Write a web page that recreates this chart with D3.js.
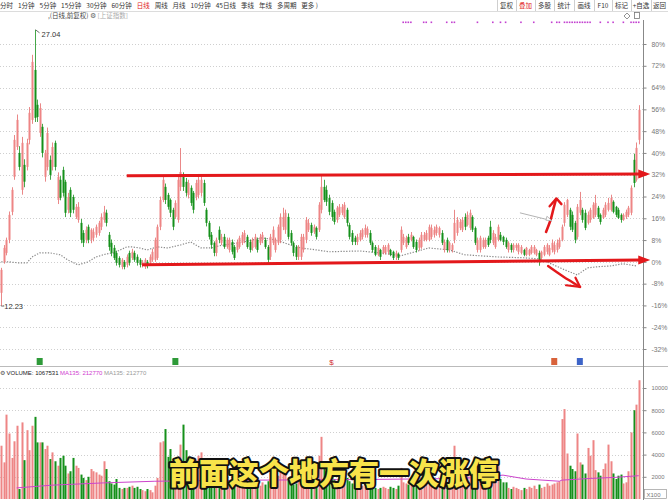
<!DOCTYPE html>
<html><head><meta charset="utf-8">
<script src="https://cdn.jsdelivr.net/npm/d3@7"></script>
<style>
html,body{margin:0;padding:0;background:#fff;}
svg{display:block;font-family:"Liberation Sans","Noto Sans CJK SC",sans-serif;}
</style></head><body>
<svg id="c" width="668" height="500"></svg>
<script>
// ---------------- DATA ----------------
const basePrice = 14.6;
const pctTicks = [80,72,64,56,48,40,32,24,16,8,0,-8,-16,-24,-32];
const volTicks = [2000,4000,6000,8000,10000];
const periodTabs = ["分时","1分钟","5分钟","15分钟","30分钟","60分钟","日线","周线","月线","10分钟","45日线","季线","年线","多周期","更多 )"];
const activeTab = "日线";
const toolButtons = ["复权","叠加","多股","统计","画线","F10","标记","+自选","返回"];
const activeButton = "叠加";
const subtitle = "前面这个地方有一次涨停";
const highLabel = "27.04", lowLabel = "12.23";
const volumeHeader = ["VOLUME: 1067531","MA135: 212770","MA135: 212770"];
// candles: [open, high, low, close]
const candles = [
[12.94,14.28,12.23,14.17],[14.60,15.50,14.50,15.35],[15.08,15.90,14.95,15.78],[15.78,17.30,15.60,17.12],[17.28,18.60,17.10,18.46],
[19.16,21.40,19.00,21.14],[20.76,22.50,20.60,22.21],[20.44,20.80,19.50,19.69],[18.46,21.30,18.20,20.98],[19.80,20.10,18.60,18.90],
[19.69,21.20,19.50,20.98],[21.14,22.90,20.90,22.59],[22.21,25.70,22.00,25.32],[24.89,27.04,22.10,22.32],[23.02,23.30,22.10,22.37],
[21.51,23.10,21.30,22.85],[21.84,22.00,20.20,20.44],[19.16,20.60,18.90,20.44],[19.69,21.80,19.50,21.51],[20.07,20.30,19.00,19.26],
[19.69,21.00,19.50,20.76],[20.98,21.10,19.50,19.69],[17.92,19.40,17.70,19.16],[19.00,19.20,17.90,18.03],[19.53,19.70,18.10,18.30],
[18.89,19.00,17.00,17.23],[17.39,18.30,17.20,18.08],[18.46,18.60,17.00,17.23],[18.08,18.20,17.20,17.39],[17.01,17.70,16.90,17.55],
[16.85,17.80,16.70,17.55],[16.69,16.90,15.60,15.78],[16.15,16.30,15.40,15.62],[15.78,16.50,15.60,16.32],[16.48,16.60,15.60,15.78],
[15.78,16.40,15.60,16.32],[15.89,16.40,15.70,16.21],[16.05,16.60,15.90,16.48],[16.15,16.80,16.00,16.69],[16.48,17.20,16.30,17.01],
[16.85,17.60,16.70,17.28],[17.23,17.40,16.50,16.69],[16.05,16.20,15.20,15.40],[15.62,15.80,14.90,15.08],[15.35,15.50,14.70,14.81],
[15.08,15.20,14.40,14.55],[14.81,14.90,14.30,14.44],[14.33,14.80,14.20,14.71],[14.60,14.70,14.20,14.33],[14.44,15.00,14.30,14.87],
[15.08,15.20,14.40,14.55],[14.81,15.30,14.70,15.14],[15.08,15.20,14.60,14.71],[14.87,15.00,14.40,14.55],[14.71,14.80,14.30,14.44],
[14.44,14.70,14.30,14.60],[14.33,14.80,14.22,14.71],[14.60,14.70,14.25,14.39],[14.55,15.00,14.40,14.87],[14.71,15.30,14.60,15.14],
[14.71,15.90,14.60,15.78],[14.81,16.60,14.70,16.48],[16.48,18.10,16.30,17.92],[17.92,19.20,17.80,19.00],[18.62,18.80,17.70,17.92],
[18.19,18.30,17.40,17.55],[17.92,18.00,17.00,17.23],[17.39,17.50,16.30,16.48],[17.01,17.90,16.90,17.76],[16.85,19.20,16.70,19.00],
[18.62,20.70,18.40,19.42],[19.21,19.40,18.40,18.62],[18.89,19.10,18.10,18.30],[18.19,19.00,18.00,18.83],[18.57,18.70,17.60,17.76],
[18.30,18.40,17.20,17.39],[18.08,19.00,17.90,18.83],[18.19,19.20,18.00,19.00],[18.30,19.25,18.10,19.00],[18.83,19.00,17.60,17.76],
[17.39,17.50,16.50,16.69],[16.69,16.80,15.80,15.94],[16.05,16.20,15.30,15.51],[15.62,15.70,14.90,15.08],[15.08,15.90,14.90,15.78],
[16.32,16.50,15.60,15.78],[15.62,16.10,15.50,15.94],[15.94,16.10,15.30,15.40],[15.40,15.90,15.30,15.78],[15.24,15.90,15.10,15.78],
[15.67,15.80,15.00,15.14],[15.40,15.50,14.70,14.81],[15.24,15.80,15.10,15.67],[15.40,16.00,15.30,15.89],[15.62,16.20,15.50,16.05],
[15.78,16.30,15.60,16.15],[15.94,16.05,15.30,15.40],[15.67,15.80,15.10,15.24],[15.35,15.90,15.20,15.78],[15.40,16.10,15.30,15.94],
[15.78,15.90,15.10,15.24],[15.62,16.10,15.50,15.94],[15.78,16.20,15.60,16.05],[15.78,15.90,15.30,15.40],[15.40,15.50,14.55,14.71],
[14.87,16.10,14.70,15.94],[15.62,16.50,15.50,16.32],[15.24,15.90,15.10,15.78],[15.62,16.60,15.50,16.48],[15.78,17.20,15.60,17.01],
[16.48,17.50,16.30,17.01],[16.32,17.40,16.10,17.23],[17.01,17.20,15.80,15.94],[16.15,16.30,15.50,15.62],[15.62,15.70,14.90,15.08],
[15.40,15.50,14.70,14.87],[14.87,15.50,14.70,15.40],[14.87,16.10,14.70,15.94],[15.24,16.10,15.10,15.94],[15.78,17.00,15.60,16.85],
[16.32,16.90,16.20,16.69],[16.58,16.70,16.00,16.15],[16.21,16.60,16.10,16.48],[16.42,16.50,15.80,15.94],[16.32,17.80,16.20,17.66],
[17.39,19.26,17.20,18.62],[18.62,19.00,17.80,17.92],[18.46,18.70,17.60,17.82],[18.03,18.20,17.10,17.28],[17.76,17.90,16.80,17.01],
[17.28,17.40,16.60,16.74],[16.85,17.60,16.70,17.50],[17.12,17.70,17.00,17.55],[17.23,17.70,17.10,17.55],[17.01,17.80,16.90,17.66],
[17.39,17.50,16.50,16.69],[16.58,16.70,15.80,15.94],[16.15,16.30,15.50,15.67],[15.89,16.00,15.50,15.67],[15.67,16.10,15.50,15.94],
[15.78,16.30,15.70,16.15],[15.94,16.40,15.80,16.32],[16.05,16.60,15.90,16.42],[16.05,16.50,15.90,16.37],[16.15,16.30,15.50,15.62],
[15.62,15.70,15.10,15.24],[15.40,15.50,14.90,14.98],[14.98,15.50,14.90,15.35],[15.24,15.30,14.70,14.87],[15.08,15.50,15.00,15.40],
[15.08,15.50,15.00,15.40],[15.14,15.60,15.00,15.51],[15.24,15.30,14.90,14.98],[15.14,15.20,14.70,14.81],[14.87,15.20,14.70,15.08],
[15.03,15.10,14.70,14.81],[15.24,16.50,15.10,16.32],[15.62,16.10,15.50,15.94],[15.40,16.00,15.30,15.89],[15.94,16.10,15.50,15.62],
[15.78,16.20,15.70,16.05],[15.94,16.00,15.30,15.40],[15.67,15.80,15.10,15.24],[15.35,15.90,15.20,15.78],[15.40,16.20,15.30,16.05],
[15.78,16.20,15.70,16.05],[15.78,16.30,15.70,16.15],[15.78,16.60,15.70,16.48],[15.94,16.60,15.80,16.42],[16.05,16.50,15.90,16.32],
[16.15,16.60,16.00,16.48],[16.05,16.50,15.90,16.42],[16.15,16.30,15.50,15.62],[15.24,15.80,15.10,15.67],[15.78,15.90,15.10,15.24],
[15.24,15.70,15.10,15.62],[15.24,15.60,15.10,15.51],[15.78,17.39,15.60,16.69],[16.15,17.00,16.00,16.85],[16.42,16.90,16.30,16.74],
[16.32,17.00,16.20,16.85],[17.01,17.20,16.30,16.48],[16.58,17.30,16.50,17.12],[16.42,17.40,16.30,17.23],[17.01,17.10,16.20,16.32],
[16.42,16.50,15.50,15.62],[15.24,15.90,15.10,15.78],[15.24,16.00,15.10,15.89],[15.40,15.90,15.30,15.78],[15.40,15.90,15.30,15.78],
[15.89,16.00,15.40,15.51],[16.48,16.80,15.60,15.78],[15.62,16.30,15.50,16.15],[15.40,16.10,15.30,15.94],[15.78,16.60,15.70,16.48],
[16.05,16.20,15.70,15.78],[15.94,16.00,15.50,15.67],[15.78,15.90,15.30,15.40],[15.24,15.70,15.10,15.62],[15.51,15.60,15.10,15.24],
[15.24,15.60,15.10,15.51],[15.35,15.60,15.20,15.51],[15.14,15.60,15.00,15.51],[15.08,15.50,15.00,15.40],[15.24,15.30,14.90,14.98],
[14.98,15.40,14.90,15.35],[14.98,15.30,14.90,15.24],[15.08,15.50,15.00,15.40],[15.08,15.50,15.00,15.40],[14.98,15.30,14.90,15.24],
[15.08,15.20,14.39,14.71],[14.81,15.20,14.70,15.14],[14.98,15.50,14.90,15.40],[15.14,15.60,15.00,15.51],[14.98,15.50,14.90,15.35],
[15.24,15.80,15.10,15.62],[15.14,15.70,15.00,15.51],[15.24,15.80,15.10,15.62],[15.40,15.90,15.30,15.78],[15.78,16.60,15.70,16.48],
[16.69,17.80,16.50,17.66],[17.12,17.98,17.00,17.92],[17.39,17.50,16.30,16.48],[17.12,17.30,16.20,16.32],[16.69,16.80,15.60,15.78],
[15.94,17.70,15.80,17.55],[17.23,18.35,17.10,17.92],[17.39,17.50,16.70,16.85],[17.23,17.40,16.30,16.42],[16.69,17.30,16.60,17.12],
[16.85,17.50,16.70,17.39],[16.96,17.80,16.90,17.66],[17.12,18.19,17.00,17.76],[17.50,17.60,16.90,17.01],[17.12,17.20,16.60,16.74],
[16.96,17.50,16.90,17.39],[17.12,17.80,17.00,17.66],[17.39,18.03,17.30,17.76],[17.39,18.20,17.30,18.03],[17.82,17.90,17.20,17.28],
[17.55,17.60,17.00,17.12],[17.39,17.50,16.90,16.96],[17.12,17.20,16.70,16.85],[16.85,17.20,16.80,17.12],[17.01,17.40,16.90,17.28],
[17.12,17.60,17.00,17.50],[17.23,18.70,17.10,18.57],[20.07,20.40,18.60,18.83],[19.00,21.00,18.90,20.71],[21.14,23.00,20.90,22.75]
];
// volume (x100 shares)
const volumes = [
4800,3300,7600,5900,3700,5200,6600,900,6900,3500,6200,4400,6600,7400,5100,5100,5100,4500,4800,3600,
4200,3400,3000,3700,3900,3000,2300,2500,3700,3000,2800,2200,1900,1700,2000,2700,2500,2400,2200,2100,
3400,2700,1600,1400,1300,1800,1000,900,1000,1000,1100,1200,1000,1100,900,800,700,900,800,600,
1200,1900,5100,5200,6300,3800,4500,3200,2500,2600,4900,6700,
4400,3200,2600,2800,3500,3900,4200,2600,3000,2300,2000,1800,2100,1900,
1500,1300,1200,1400,1600,1800,1200,1300,1500,1400,1300,1100,1200,1400,1300,1200,1500,1300,1600,2400,
2200,1800,2100,2600,2900,2500,1800,1500,1300,1400,1600,1900,2000,2200,1700,1500,1400,1300,
3900,5600,
3000,2500,2200,2000,1800,1600,1500,1700,1400,1900,
1600,1400,1200,1100,1000,1200,1100,1300,1400,1200,1000,900,1000,1100,1000,900,1100,1000,900,1200,
2800,1500,1400,1300,1200,1400,1300,1100,1200,1600,1800,1500,1400,1300,1500,1400,1200,1100,1000,1300,1200,
4800,
2600,2200,2000,1800,2300,2500,1900,2100,1500,1600,1400,1300,1200,1700,1900,1600,3000,1800,1500,
1500,1000,900,1100,1000,900,800,1000,900,1100,1000,1200,900,1300,1000,1100,1400,1200,1300,1400,1500,1600,
7200,8100,4100,3000,2700,2500,5900,3300,3100,2300,4600,3900,5300,2600,2400,2100,2700,3200,4900,3400,
2300,1800,2100,2200,1400,1500,2500,6000,8000,8500,10700
];
// MA135 of volume, read at some bars: [bar index, value]
const volMA = [[6,1000],[20,1250],[40,1450],[60,1600],[80,1650],[100,1700],[140,1750],[180,1850],[196,2150],[205,1800],[218,1600],[219,1700],[230,1850],[240,1950],[249,2100]];
// 上证指数 overlay, in % of the chart's base: [bar index, percent]
const indexLine = [[0,0],[3,0],[7,-0.4],[10,-0.4],[12,1.8],[15,3.3],[19,3.3],[23,2.6],[26,0.7],[30,-1.1],[34,0],[37,1.8],[41,2.9],[44,3.3],
[49,5.5],[51,5.5],[54,5.1],[57,4.4],[61,5.5],[65,5.1],[70,6.2],[74,7.3],[78,5.1],[82,5.1],[85,5.9],[93,7.0],[102,8.8],[107,8.1],
[113,6.2],[117,5.1],[123,4.4],[128,3.7],[140,4.0],[148,3.3],[156,2.2],[167,5.1],[175,4.4],[181,2.6],[194,1.8],[204,1.5],[210,1.1],
[214,-0.4],[220,-2.9],[225,-4.8],[229,-2.2],[233,-1.8],[238,-1.5],[243,-0.7],[248,-1.5]];
// event marker bars (purple dots on top)
const markerBars = [157,158,159,160,165,166,168,174,176,177,186,192,195,197,203,208,215,217,218,220,221,222,223,224,225,226,227,228,229,230,234,237,239,243,246,247,248,249];
// hand-drawn annotations in [bar index, percent]
const upperBand = [[49,31.6],[250,32.3]];
const lowerBand = [[55,-1.1],[250,0.7]];
const upArrow = [[212.8,11.0],[214.6,15.5],[215.7,19.5],[216.7,23.0]];
const upHead = [[214.2,20.4],[216.9,23.3],[218.8,21.2]];
const downArrow = [[213.6,-1.5],[217.2,-3.9],[221.5,-6.6],[226.1,-9.2]];
const downHead = [[220.6,-8.6],[226.1,-9.2],[224.3,-5.8]];
const grayArrow = [[202.6,18.0],[215.1,15.1]];

// ---------------- DRAW ----------------
const svg = d3.select('#c');
const N = candles.length;
const axisX = 643;
const x = d3.scaleBand().domain(d3.range(N)).range([0,640]).paddingInner(0.3).paddingOuter(0.15);
const xc = i => x(i) + x.bandwidth()/2;
const xi = i => xc(0) + i * x.step();
const yP = d3.scaleLinear().domain([-32,80]).range([349,44]);
const toPct = p => (p/basePrice - 1)*100;
const yPrice = p => yP(toPct(p));
const yV = d3.scaleLinear().domain([0,10000]).range([499,388]);
const upC = "#ee8585", upS = "#e46a6a", dnC = "#15901a";

// lay texts out one after the other, spreading them between x0 and x1
function flow(g, items, x0, x1, y, size, colorFn, family){
  const nodes = items.map(t => g.append('text').attr('y',y).attr('font-size',size)
      .attr('font-family',family).attr('fill',colorFn(t)).text(t));
  const widths = nodes.map(n => n.node().getComputedTextLength());
  const gap = Math.max(1.5, (x1 - x0 - d3.sum(widths)) / Math.max(1, items.length-1));
  let cx = x0;
  nodes.forEach((n,k)=>{ n.attr('x',cx); cx += widths[k] + gap; });
}
const cjk = '"Noto Sans CJK SC",sans-serif';

// toolbar
const tb = svg.append('g');
flow(tb, periodTabs, 0, 318, 8, 6.5, t => t===activeTab?'#e02020':'#333', cjk);
const btnEdges = [497,516,535,554,574,594,612,631,651,668];
svg.append('line').attr('x1',0).attr('x2',668).attr('y1',11.5).attr('y2',11.5).attr('stroke','#dcdcdc');
toolButtons.forEach((t,k)=>{
  tb.append('text').attr('x',(btnEdges[k]+btnEdges[k+1])/2).attr('y',8).attr('text-anchor','middle')
    .attr('font-size',6.5).attr('font-family',cjk)
    .attr('fill', t===activeButton?'#e02020':'#333').text(t);
  svg.append('line').attr('x1',btnEdges[k]+0.5).attr('x2',btnEdges[k]+0.5).attr('y1',0).attr('y2',11).attr('stroke','#cfcfcf');
});
const row2 = svg.append('g');
flow(row2, [',(日线,前复权)','⚙','[上证指数]'], 48, 128, 18, 6.5, t => t==='[上证指数]'?'#aaa':(t==='⚙'?'#666':'#444'), cjk);
// top right icons
svg.append('path').attr('d','M627,13 l3,3 l-3,3 l-3,-3 z').attr('fill','none').attr('stroke','#777').attr('stroke-width',0.8);
svg.append('rect').attr('x',634.5).attr('y',12.5).attr('width',5).attr('height',6).attr('fill','none').attr('stroke','#777').attr('stroke-width',0.8);

// grid lines
svg.append('g').selectAll('line').data(pctTicks).join('line')
  .attr('x1',0).attr('x2',axisX).attr('y1',d=>Math.round(yP(d))+0.5).attr('y2',d=>Math.round(yP(d))+0.5)
  .attr('stroke','#cfcfcf').attr('stroke-dasharray','1,2');
svg.append('g').selectAll('line').data(volTicks).join('line')
  .attr('x1',0).attr('x2',axisX).attr('y1',d=>Math.round(yV(d))+0.5).attr('y2',d=>Math.round(yV(d))+0.5)
  .attr('stroke','#cfcfcf').attr('stroke-dasharray','1,2');

// panel separator
svg.append('line').attr('x1',0).attr('x2',668).attr('y1',366.5).attr('y2',366.5).attr('stroke','#bbb');

// index overlay (dotted)
svg.append('path').datum(indexLine)
  .attr('d', d3.line().x(d=>xi(d[0])).y(d=>yP(d[1])))
  .attr('fill','none').attr('stroke','#8a8a8a').attr('stroke-width',1.2).attr('stroke-dasharray','1.3,1.5');

// candles
const cg = svg.append('g');
cg.selectAll('line').data(candles).join('line')
  .attr('x1',(d,i)=>Math.round(xc(i))+0.5).attr('x2',(d,i)=>Math.round(xc(i))+0.5)
  .attr('y1',d=>yPrice(d[1])).attr('y2',d=>yPrice(d[2]))
  .attr('stroke',d=>d[3]>=d[0]?upS:dnC).attr('stroke-width',0.8);
cg.selectAll('rect').data(candles).join('rect')
  .attr('x',(d,i)=>Math.round(xc(i))+0.5-1)
  .attr('width',2)
  .attr('y',d=>yPrice(Math.max(d[0],d[3])))
  .attr('height',d=>Math.max(1,Math.abs(yPrice(d[0])-yPrice(d[3]))))
  .attr('fill',d=>d[3]>=d[0]?upC:dnC);

// high / low labels
const hiI = d3.maxIndex(candles,d=>d[1]), loI = d3.minIndex(candles,d=>d[2]);
svg.append('line').attr('x1',xc(hiI)+1).attr('y1',yPrice(candles[hiI][1])).attr('x2',xc(hiI)+5).attr('y2',yPrice(candles[hiI][1])+3).attr('stroke','#333').attr('stroke-width',0.7);
svg.append('text').attr('x',xc(hiI)+7).attr('y',yPrice(candles[hiI][1])+7).attr('font-size',7.5).attr('fill','#333').text(highLabel);
svg.append('line').attr('x1',xc(loI)).attr('y1',yPrice(candles[loI][2])).attr('x2',xc(loI)+3).attr('y2',yPrice(candles[loI][2])).attr('stroke','#333').attr('stroke-width',0.7);
svg.append('text').attr('x',xc(loI)+3).attr('y',yPrice(candles[loI][2])+3).attr('font-size',7.5).attr('fill','#333').text(lowLabel);

// event markers
svg.append('g').selectAll('rect').data(markerBars).join('rect')
  .attr('x',i=>xc(i)-0.8).attr('y',21.5).attr('width',1.6).attr('height',1.6).attr('fill','#c23fd0');

// bottom event icons
const ev = svg.append('g');
ev.append('rect').attr('x',xc(15)-3).attr('y',358).attr('width',6).attr('height',7).attr('fill','#2e9a38');
ev.append('rect').attr('x',xc(68)-3).attr('y',358).attr('width',6).attr('height',7).attr('fill','#2e9a38');
ev.append('text').attr('x',xc(129)).attr('y',365).attr('text-anchor','middle').attr('font-size',8).attr('fill','#d23030').text('$');
ev.append('rect').attr('x',xc(216)-3).attr('y',358).attr('width',6).attr('height',7).attr('fill','#d8623a');
ev.append('rect').attr('x',xc(226)-3).attr('y',358).attr('width',6).attr('height',7).attr('fill','#3d64c8');

// volume bars
svg.append('g').selectAll('rect').data(volumes.slice(0,N)).join('rect')
  .attr('x',(d,i)=>Math.round(xc(i))+0.5-1).attr('width',2)
  .attr('y',d=>yV(d)).attr('height',d=>yV(0)-yV(d))
  .attr('fill',(d,i)=>candles[i][3]>=candles[i][0]?upC:dnC);
// volume MA
svg.append('path').datum(volMA)
  .attr('d', d3.line().x(d=>xi(d[0])).y(d=>yV(d[1])))
  .attr('fill','none').attr('stroke','#cc44cc').attr('stroke-width',1);

// volume header
const vh = svg.append('g');
const vhItems = ['⚙'].concat(volumeHeader);
const vhColors = {0:'#555',1:'#222',2:'#d040d0',3:'#999'};
flow(vh, vhItems, 0, 125, 375, 6, t => vhColors[vhItems.lastIndexOf(t)] , '"Liberation Sans",sans-serif');
vh.selectAll('text').attr('fill',(d,k)=>vhColors[k]);

// right axes
svg.append('line').attr('x1',axisX+0.5).attr('x2',axisX+0.5).attr('y1',20).attr('y2',500).attr('stroke','#888');
const ax1 = svg.append('g').attr('transform',`translate(${axisX+0.5},0)`)
  .call(d3.axisRight(yP).tickValues(pctTicks).tickSize(3).tickPadding(5).tickFormat(d=>d+'%'));
const ax2 = svg.append('g').attr('transform',`translate(${axisX+0.5},0)`)
  .call(d3.axisRight(yV).tickValues(volTicks).tickSize(3).tickPadding(5).tickFormat(d3.format('d')));
[ax1,ax2].forEach(a=>{
  a.select('.domain').remove();
  a.selectAll('line').attr('stroke','#888');
  a.selectAll('text').attr('fill','#777').attr('font-family','"Liberation Sans",sans-serif');
});
ax1.selectAll('text').attr('font-size',6.8);
ax2.selectAll('text').attr('font-size',5.8);
svg.append('rect').attr('x',644.5).attr('y',489.5).attr('width',22).attr('height',9).attr('fill','#fff').attr('stroke','#999').attr('stroke-width',0.7);
svg.append('text').attr('x',646.5).attr('y',497).attr('font-size',6).attr('fill','#777').text('X100');

// annotations
const P = d => [xi(d[0]), yP(d[1])];
const red = '#e3181b';
const line = d3.line().x(d=>P(d)[0]).y(d=>P(d)[1]);
const curve = d3.line().x(d=>P(d)[0]).y(d=>P(d)[1]).curve(d3.curveCatmullRom);
[upperBand,lowerBand].forEach(b=>{
  svg.append('path').attr('d',line(b)).attr('stroke',red).attr('stroke-width',3).attr('fill','none');
  const [ex,ey] = P(b[1]);
  svg.append('path').attr('d',`M${ex-3},${ey-4.5} L${ex+9},${ey} L${ex-3},${ey+4.5} Z`).attr('fill',red);
});
svg.append('path').attr('d',curve(upArrow)).attr('stroke',red).attr('stroke-width',2.6).attr('fill','none').attr('stroke-linecap','round');
svg.append('path').attr('d',line(upHead)).attr('stroke',red).attr('stroke-width',2.4).attr('fill','none').attr('stroke-linecap','round').attr('stroke-linejoin','round');
svg.append('path').attr('d',curve(downArrow)).attr('stroke',red).attr('stroke-width',2.4).attr('fill','none').attr('stroke-linecap','round');
svg.append('path').attr('d',line(downHead)).attr('stroke',red).attr('stroke-width',2.2).attr('fill','none').attr('stroke-linecap','round').attr('stroke-linejoin','round');
svg.append('path').attr('d',line(grayArrow)).attr('stroke','#aaa').attr('stroke-width',0.9).attr('fill','none');
{
  const [gx,gy] = P(grayArrow[1]);
  svg.append('path').attr('d',`M${gx},${gy} l-5,-4.5 l-1,4 z`).attr('fill','#fff').attr('stroke','#aaa').attr('stroke-width',0.8);
}

// subtitle
svg.append('text').attr('x',334).attr('y',484).attr('text-anchor','middle')
  .attr('font-family',cjk).attr('font-weight',900).attr('font-size',30)
  .attr('fill','#f8e34a').attr('stroke','#111').attr('stroke-width',4).attr('paint-order','stroke')
  .attr('stroke-linejoin','round').text(subtitle);
</script>
</body></html>
